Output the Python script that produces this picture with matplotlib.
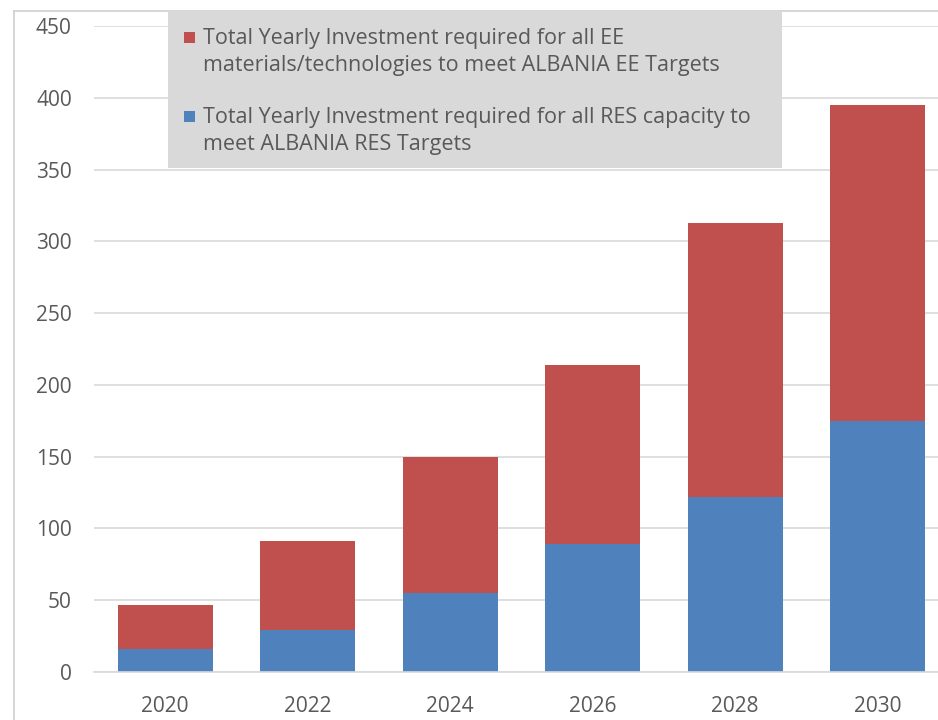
import matplotlib
matplotlib.use("Agg")
import matplotlib.pyplot as plt
from matplotlib.patches import Rectangle
from matplotlib.lines import Line2D

# Data
YEARS = ["2020", "2022", "2024", "2026", "2028", "2030"]
RES_INVESTMENT = [16, 29, 55, 89, 122, 175]
EE_INVESTMENT = [31, 62, 95, 125, 191, 220]

EE_LABEL = ("Total Yearly Investment required for all EE\n"
            "materials/technologies to meet ALBANIA EE Targets")
RES_LABEL = ("Total Yearly Investment required for all RES capacity to\n"
             "meet ALBANIA RES Targets")

RED = "#C0504D"
BLUE = "#4F81BD"
GRID = "#D9D9D9"
TEXT = "#595959"

plt.rcParams["font.family"] = ["Open Sans", "DejaVu Sans"]

W, H = 938, 720
fig = plt.figure(figsize=(W / 100, H / 100), dpi=100)
ax = fig.add_axes([0.1002, 0.0667, 0.9115, 0.8972])

x = range(len(YEARS))
ax.bar(x, RES_INVESTMENT, width=0.665, color=BLUE, zorder=2)
ax.bar(x, EE_INVESTMENT, width=0.665, bottom=RES_INVESTMENT, color=RED,
       zorder=2)

ax.set_xlim(-0.5, 5.5)
ax.set_ylim(0, 450)
ax.set_yticks(range(0, 451, 50))
ax.set_xticks(list(x))
ax.set_xticklabels(YEARS)
ax.yaxis.grid(True, color=GRID, linewidth=1.2, zorder=0)
ax.set_axisbelow(True)
for side in ["top", "right", "left"]:
    ax.spines[side].set_visible(False)
ax.spines["bottom"].set_color(GRID)
ax.spines["bottom"].set_linewidth(1.2)
ax.tick_params(axis="both", length=0, labelsize=15, labelcolor=TEXT)
ax.tick_params(axis="y", pad=16)
ax.tick_params(axis="x", pad=17)

# chart area border (cropped screenshot)
fig.add_artist(Line2D([14 / W, 1.0], [1 - 11 / H, 1 - 11 / H],
                      color="#D0D0D0", linewidth=1.2))
fig.add_artist(Line2D([14 / W, 14 / W], [0.0, 1 - 11 / H],
                      color="#D0D0D0", linewidth=1.2))

# legend: gray box, square keys, two-line labels
fig.add_artist(Rectangle((168 / W, 1 - 168 / H), 614 / W, 157 / H,
                         facecolor="#D9D9D9", edgecolor="none", zorder=3))
for label, color, top in [(EE_LABEL, RED, 44), (RES_LABEL, BLUE, 123)]:
    fig.add_artist(Rectangle((184 / W, 1 - (top - 1) / H), 11 / W, 11 / H,
                             facecolor=color, edgecolor="none", zorder=4))
    for i, line in enumerate(label.split("\n")):
        fig.text(203 / W, 1 - (top + 27 * i) / H, line, fontsize=15.5,
                 color=TEXT, va="baseline", ha="left", zorder=5)

fig.savefig("out.png", dpi=100)
